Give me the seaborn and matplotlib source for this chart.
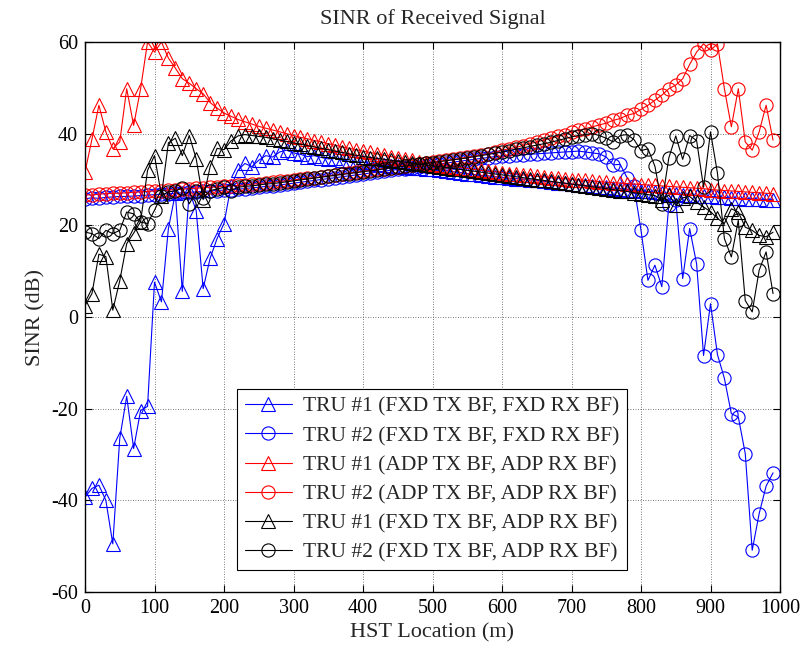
import numpy as np
import matplotlib
matplotlib.use("Agg")
import matplotlib.pyplot as plt
import seaborn as sns

# HST position along the track (m), sampled every 10 m
location_m = np.arange(0, 1000, 10)

# SINR (dB) of each TRU for the three beamforming schemes
tru1_fxd_fxd = [
    -39.3, -37.4, -36.7, -40.0, -49.5, -26.5, -17.3, -28.7, -20.4, -19.5,
    7.6, 3.3, 19.3, 27.0, 5.6, 27.5, 23.2, 6.2, 12.8, 17.1,
    20.4, 28.5, 32.0, 33.5, 32.8, 34.2, 35.2, 34.9, 36.0, 36.4,
    35.8, 35.5, 35.0, 35.2, 34.8, 34.5, 34.6, 34.2, 34.0, 33.8,
    33.8, 33.5, 33.4, 33.2, 33.0, 32.9, 32.7, 32.6, 32.5, 32.4,
    32.3, 32.1, 31.9, 31.7, 31.5, 31.3, 31.1, 30.9, 30.8, 30.6,
    30.5, 30.3, 30.2, 30.1, 29.9, 29.8, 29.6, 29.5, 29.3, 29.2,
    29.0, 28.9, 28.7, 28.6, 28.4, 28.3, 28.1, 28.0, 27.8, 27.7,
    27.5, 27.4, 27.2, 27.1, 26.9, 26.8, 26.7, 26.6, 26.5, 26.4,
    26.3, 26.2, 26.1, 26.0, 25.9, 25.8, 25.8, 25.7, 25.6, 25.6,
]
tru2_fxd_fxd = [
    25.8, 26.0, 25.9, 26.1, 26.2, 26.3, 26.3, 26.4, 26.5, 26.6,
    26.7, 26.8, 26.9, 27.0, 27.1, 27.2, 27.3, 27.4, 27.5, 27.6,
    27.7, 27.8, 27.9, 28.0, 28.2, 28.3, 28.5, 28.6, 28.8, 29.0,
    29.2, 29.4, 29.6, 29.8, 30.0, 30.2, 30.4, 30.6, 30.8, 31.0,
    31.2, 31.4, 31.6, 31.8, 32.0, 32.2, 32.4, 32.6, 32.8, 33.0,
    33.2, 33.4, 33.6, 33.8, 34.0, 34.2, 34.4, 34.6, 34.8, 35.0,
    35.1, 35.2, 35.3, 35.4, 35.5, 35.6, 35.7, 35.8, 35.9, 36.0,
    36.1, 36.2, 36.0, 35.8, 35.6, 34.9, 33.2, 33.3, 30.4, 28.5,
    18.9, 8.0, 11.3, 6.6, 24.4, 25.5, 8.4, 19.3, 11.6, -8.4,
    2.9, -8.2, -13.4, -21.1, -21.8, -29.8, -50.9, -42.9, -36.9, -34.0,
]
tru1_adp_adp = [
    31.6, 38.8, 46.2, 40.4, 36.7, 38.2, 49.8, 41.8, 49.8, 60.0,
    57.8, 60.0, 56.5, 54.3, 52.0, 51.0, 49.8, 48.7, 46.8, 45.6,
    44.5, 43.8, 43.1, 42.6, 42.1, 41.6, 41.2, 40.8, 40.4, 40.0,
    39.6, 39.2, 38.9, 38.5, 38.2, 37.8, 37.5, 37.1, 36.8, 36.5,
    36.2, 35.9, 35.6, 35.3, 35.0, 34.7, 34.4, 34.2, 33.9, 33.7,
    33.4, 33.2, 33.0, 32.8, 32.6, 32.4, 32.2, 32.0, 31.8, 31.7,
    31.5, 31.3, 31.2, 31.0, 30.9, 30.7, 30.6, 30.4, 30.3, 30.2,
    30.0, 29.9, 29.8, 29.7, 29.5, 29.4, 29.3, 29.2, 29.1, 29.0,
    28.9, 28.8, 28.7, 28.6, 28.5, 28.4, 28.3, 28.2, 28.1, 28.0,
    27.8, 27.7, 27.6, 27.5, 27.4, 27.3, 27.2, 27.1, 27.0, 26.9,
]
tru2_adp_adp = [
    26.7, 26.6, 26.8, 26.9, 27.0, 27.0, 27.1, 27.2, 27.3, 27.4,
    27.5, 27.6, 27.7, 27.8, 27.9, 28.0, 28.1, 28.2, 28.3, 28.4,
    28.5, 28.6, 28.7, 28.8, 29.0, 29.1, 29.3, 29.4, 29.6, 29.7,
    29.9, 30.1, 30.3, 30.4, 30.6, 30.8, 31.0, 31.2, 31.4, 31.6,
    31.8, 32.0, 32.2, 32.4, 32.6, 32.8, 33.0, 33.2, 33.4, 33.6,
    33.8, 34.0, 34.2, 34.4, 34.6, 34.9, 35.1, 35.4, 35.6, 35.9,
    36.4, 36.7, 37.0, 37.4, 37.8, 38.2, 38.6, 39.0, 39.4, 39.8,
    40.3, 40.7, 41.1, 41.5, 41.9, 42.3, 42.9, 43.3, 44.0, 44.4,
    45.3, 46.2, 47.3, 48.4, 49.8, 50.6, 52.0, 55.1, 57.8, 59.6,
    58.2, 59.6, 49.8, 41.5, 49.8, 38.2, 36.4, 40.4, 46.2, 38.6,
]
tru1_fxd_adp = [
    2.5, 5.1, 13.7, 13.2, 1.5, 7.9, 16.0, 18.3, 20.8, 32.0,
    35.2, 26.5, 38.0, 39.0, 35.2, 39.6, 34.5, 25.6, 32.8, 36.8,
    36.5, 38.4, 39.5, 39.8, 39.6, 39.4, 39.2, 38.9, 38.6, 38.3,
    38.0, 37.7, 37.4, 37.1, 36.8, 36.5, 36.2, 35.9, 35.6, 35.3,
    35.0, 34.8, 34.6, 34.4, 34.2, 34.0, 33.8, 33.6, 33.4, 33.2,
    33.0, 32.8, 32.6, 32.4, 32.2, 32.0, 31.8, 31.6, 31.4, 31.2,
    31.0, 30.8, 30.6, 30.4, 30.2, 30.0, 29.8, 29.6, 29.4, 29.2,
    29.0, 28.8, 28.6, 28.4, 28.2, 28.0, 27.8, 27.6, 27.4, 27.1,
    26.9, 26.7, 26.5, 25.5, 26.6, 24.4, 26.0, 26.3, 25.0, 24.0,
    23.0, 21.5, 20.4, 23.6, 22.9, 19.6, 18.9, 17.8, 17.5, 18.5,
]
tru2_fxd_adp = [
    18.5, 18.2, 17.1, 18.9, 18.2, 18.9, 22.9, 22.5, 20.7, 20.4,
    23.3, 26.5, 27.3, 27.5, 28.2, 24.7, 27.4, 25.9, 27.6, 27.9,
    28.3, 27.6, 28.3, 28.5, 28.6, 28.8, 29.0, 29.1, 29.3, 29.5,
    29.7, 29.9, 30.1, 30.3, 30.5, 30.7, 30.9, 31.1, 31.3, 31.5,
    31.7, 31.9, 32.1, 32.3, 32.5, 32.7, 32.9, 33.1, 33.3, 33.5,
    33.7, 33.9, 34.1, 34.3, 34.5, 34.7, 35.0, 35.2, 35.5, 35.7,
    36.0, 36.3, 36.6, 36.9, 37.2, 37.5, 37.8, 38.1, 38.5, 38.9,
    39.3, 39.6, 39.8, 40.0, 39.6, 39.0, 38.2, 39.6, 39.8, 38.7,
    36.3, 36.7, 32.9, 24.7, 34.7, 39.5, 34.4, 39.6, 38.5, 28.3,
    40.4, 31.4, 17.1, 13.1, 21.1, 3.6, 1.1, 10.2, 14.2, 5.1,
]

series = [
    (tru1_fxd_fxd, "blue", "^", "TRU #1 (FXD TX BF, FXD RX BF)"),
    (tru2_fxd_fxd, "blue", "o", "TRU #2 (FXD TX BF, FXD RX BF)"),
    (tru1_adp_adp, "red", "^", "TRU #1 (ADP TX BF, ADP RX BF)"),
    (tru2_adp_adp, "red", "o", "TRU #2 (ADP TX BF, ADP RX BF)"),
    (tru1_fxd_adp, "black", "^", "TRU #1 (FXD TX BF, ADP RX BF)"),
    (tru2_fxd_adp, "black", "o", "TRU #2 (FXD TX BF, ADP RX BF)"),
]

sns.set_style("ticks")
plt.rcParams["font.family"] = ["Liberation Serif", "DejaVu Serif"]
plt.rcParams["axes.unicode_minus"] = False

fig = plt.figure(figsize=(8.01, 6.49), dpi=100)
ax = fig.add_axes([85 / 801, 57 / 649, 695 / 801, 550 / 649])

for values, color, marker, label in series:
    sns.lineplot(
        x=location_m, y=values, ax=ax, color=color, linewidth=0.8,
        marker=marker, markersize=9.5, markerfacecolor="none",
        markeredgecolor=color, markeredgewidth=0.8, label=label,
        legend=False,
    )

ax.set_xlim(0, 1000)
ax.set_ylim(-60, 60)
ax.set_xticks(np.arange(0, 1001, 100))
ax.set_yticks(np.arange(-60, 61, 20))
ax.grid(True, linestyle=(0, (1, 2)), color="0.3", linewidth=0.6)
ax.set_axisbelow(True)
for spine in ax.spines.values():
    spine.set_visible(True)
    spine.set_color("black")
    spine.set_linewidth(1.0)
ax.tick_params(direction="in", top=True, right=True, length=5, width=0.8,
               labelsize=14.5, colors="black", pad=5)

ax.set_title("SINR of Received Signal", fontsize=16, pad=13)
ax.set_xlabel("HST Location (m)", fontsize=16, labelpad=4)
ax.set_ylabel("SINR (dB)", fontsize=16, labelpad=4)

handles, labels = ax.get_legend_handles_labels()
leg = ax.legend(handles, labels, loc="lower left", bbox_to_anchor=(0.219, 0.04),
                fontsize=15.5, frameon=True, fancybox=False, edgecolor="black",
                framealpha=1, borderpad=0.35, labelspacing=0.42,
                handlelength=2.2, handletextpad=0.5, borderaxespad=0)
leg.get_frame().set_linewidth(0.8)

fig.savefig("out.png", dpi=100)
